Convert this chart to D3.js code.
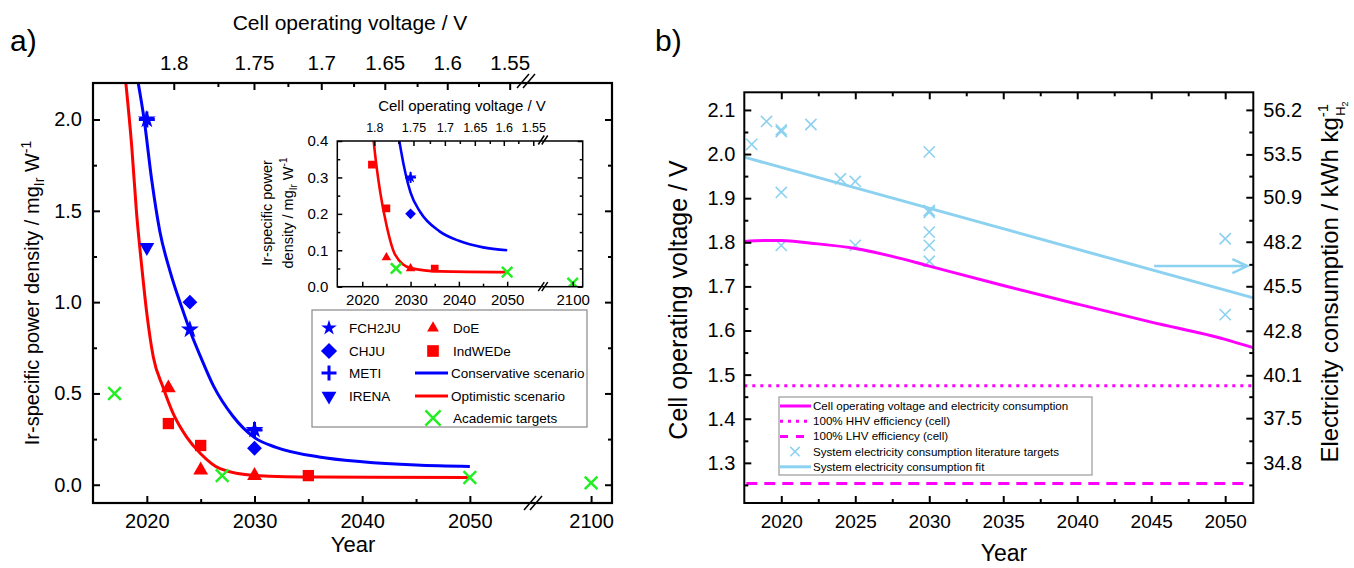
<!DOCTYPE html>
<html>
<head>
<meta charset="utf-8">
<script src="https://cdn.jsdelivr.net/npm/d3@7"></script>
<style>
  body { margin: 0; background: #fff; }
  text { font-family: "Liberation Sans", Arial, Helvetica, sans-serif; }
</style>
</head>
<body>
<svg id="chart" width="1354" height="568"></svg>
<script>
// ---------- panel a data ----------
const fch2juYears = [2020, 2024, 2030]
const fch2juVals = [2.0, 0.85, 0.3]
const chjuYears = [2024, 2030]
const chjuVals = [1.0, 0.2]
const metiYears = [2020, 2030]
const metiVals = [2.0, 0.3]
const irenaYears = [2020]
const irenaVals = [1.3]
const doeYears = [2022, 2025, 2030]
const doeVals = [0.53, 0.08, 0.05]
const indwedeYears = [2022, 2025, 2035]
const indwedeVals = [0.335, 0.215, 0.05]
const academicYears = [2017, 2027, 2050, 2100]
const academicVals = [0.5, 0.05, 0.04, 0.01]

// scenario curves
const conservativeYears = [2019.2, 2019.75, 2020.45, 2021.2, 2022.15, 2023.25, 2024, 2025, 2026.2, 2028, 2030, 2032, 2036, 2040, 2045, 2050]
const conservativeVals = [2.2, 2.0, 1.67, 1.39, 1.17, 0.97, 0.845, 0.70, 0.54, 0.375, 0.258, 0.205, 0.152, 0.126, 0.108, 0.10]
const optimisticYears = [2018.05, 2018.6, 2019.05, 2019.5, 2020, 2020.6, 2021.5, 2022.45, 2023.7, 2025, 2026.8, 2030, 2036, 2050]
const optimisticVals = [2.2, 1.85, 1.485, 1.21, 0.937, 0.70, 0.535, 0.389, 0.261, 0.17, 0.088, 0.051, 0.042, 0.04]

const yearTicksA = [2020, 2030, 2040, 2050, 2100]
const yearMinorA = [2025, 2035, 2045]
const densTicksA = [0.0, 0.5, 1.0, 1.5, 2.0]
const densMinorA = [0.25, 0.75, 1.25, 1.75]
const voltLabels = ["1.8", "1.75", "1.7", "1.65", "1.6", "1.55"]
const voltTickYears = [2022.5, 2029.95, 2036.2, 2042.1, 2047.9, 2053.7]
const voltMinorYears = [2026.6, 2033.1, 2039.2, 2045.1, 2050.8]
const insetVoltTickYears = [2022.5, 2030.6, 2037.1, 2043.3, 2049.3, 2055.4]
const insetVoltMinorYears = [2027.5, 2034.0, 2040.2, 2046.4, 2052.3]
const insetDensTicks = [0.0, 0.1, 0.2, 0.3, 0.4]
const insetDensMinor = [0.05, 0.15, 0.25, 0.35]

// ---------- panel b data ----------
const cellYears = [2017.5, 2019, 2020, 2022, 2025, 2027.5, 2030, 2035, 2040, 2045, 2050, 2051.9]
const cellVolts = [1.802, 1.804, 1.804, 1.798, 1.786, 1.768, 1.746, 1.702, 1.66, 1.619, 1.58, 1.561]
const fitYears = [2017.5, 2051.9]
const fitVolts = [1.993, 1.674]
const targetYears = [2018, 2019, 2020, 2020, 2022, 2020, 2020, 2024, 2025, 2025, 2030, 2030, 2030, 2030, 2030, 2030, 2050, 2050]
const targetVolts = [2.022, 2.074, 2.051, 2.055, 2.067, 1.913, 1.793, 1.944, 1.938, 1.793, 2.005, 1.868, 1.872, 1.823, 1.793, 1.757, 1.808, 1.636]
const hhvVolt = 1.475
const lhvVolt = 1.253
const arrowYears = [2045.2, 2051.5]
const arrowVolt = 1.746
const yearTicksB = [2020, 2025, 2030, 2035, 2040, 2045, 2050]
const yearMinorB = [2022.5, 2027.5, 2032.5, 2037.5, 2042.5, 2047.5]
const voltTicksB = [1.3, 1.4, 1.5, 1.6, 1.7, 1.8, 1.9, 2.0, 2.1]
const voltMinorB = [1.25, 1.35, 1.45, 1.55, 1.65, 1.75, 1.85, 1.95, 2.05]
const kwhTicks = [34.8, 37.5, 40.1, 42.8, 45.5, 48.2, 50.9, 53.5, 56.2]
const KWH_PER_V = 26.76

const BLUE = "#0000ff", RED = "#ff0000", GREEN = "#22ee22"
const MAGENTA = "#ff00ff", SKY = "#8cd2f0"

const svg = d3.select("#chart")

// custom stroke symbols
const symX = {draw(ctx, size) { const r = Math.sqrt(size) / 2; ctx.moveTo(-r, -r); ctx.lineTo(r, r); ctx.moveTo(-r, r); ctx.lineTo(r, -r) }}
const symPlus = {draw(ctx, size) { const r = Math.sqrt(size) / 2; ctx.moveTo(-r, 0); ctx.lineTo(r, 0); ctx.moveTo(0, -r); ctx.lineTo(0, r) }}

function marks(g, x, y, years, vals, s) {
    g.selectAll(null)
        .data(d3.zip(years, vals))
        .enter()
        .append("path")
        .attr("transform", d => `translate(${x(d[0])},${y(d[1])}) rotate(${s.rot || 0})`)
        .attr("d", d3.symbol(s.sym, s.size))
        .attr("fill", s.sw ? "none" : s.color)
        .attr("stroke", s.sw ? s.color : "none")
        .attr("stroke-width", s.sw || 0)
}

function styleAxis(g, size, sw) {
    g.select(".domain").remove()
    g.attr("font-family", null).attr("font-size", size)
    g.selectAll("line").attr("stroke-width", sw)
    g.selectAll("text").attr("fill", "#000")
}

function breakMark(g, x, y, w, h, gap) {
    for (let k of [-gap / 2, gap / 2]) {
        g.append("line")
            .attr("x1", x + k - w / 2).attr("y1", y + h / 2)
            .attr("x2", x + k + w / 2).attr("y2", y - h / 2)
            .attr("stroke", "#000").attr("stroke-width", 1.5)
    }
}

// =================== PANEL A ===================
const A = {l: 93, r: 612, t: 83, b: 503}
const ax = d3.scaleLinear().domain([2015, 2055.4, 2094.3, 2101.95]).range([A.l, 528, 530, A.r])
const ay = d3.scaleLinear().domain([-0.1, 2.2]).range([A.b, A.t])

const gA = svg.append("g")
svg.append("clipPath").attr("id", "clipA").append("rect")
    .attr("x", A.l).attr("y", A.t).attr("width", A.r - A.l).attr("height", A.b - A.t)

const lineA = d3.line().x(d => ax(d[0])).y(d => ay(d[1])).curve(d3.curveMonotoneX)
const curvesA = gA.append("g").attr("clip-path", "url(#clipA)")
curvesA.append("path").attr("d", lineA(d3.zip(conservativeYears, conservativeVals)))
    .attr("fill", "none").attr("stroke", BLUE).attr("stroke-width", 3)
curvesA.append("path").attr("d", lineA(d3.zip(optimisticYears, optimisticVals)))
    .attr("fill", "none").attr("stroke", RED).attr("stroke-width", 3)

const mainSty = {
    star: {sym: d3.symbolStar, size: 100, color: BLUE},
    diamond: {sym: d3.symbolSquare, size: 110, color: BLUE, rot: 45},
    plus: {sym: symPlus, size: 256, color: BLUE, sw: 3},
    down: {sym: d3.symbolTriangle, size: 95, color: BLUE, rot: 180},
    tri: {sym: d3.symbolTriangle, size: 95, color: RED},
    square: {sym: d3.symbolSquare, size: 128, color: RED},
    x: {sym: symX, size: 160, color: GREEN, sw: 2.5}
}
marks(gA, ax, ay, chjuYears, chjuVals, mainSty.diamond)
marks(gA, ax, ay, irenaYears, irenaVals, mainSty.down)
marks(gA, ax, ay, fch2juYears, fch2juVals, mainSty.star)
marks(gA, ax, ay, metiYears, metiVals, mainSty.plus)
marks(gA, ax, ay, doeYears, doeVals, mainSty.tri)
marks(gA, ax, ay, indwedeYears, indwedeVals, mainSty.square)
marks(gA, ax, ay, academicYears, academicVals, mainSty.x)

// axes a
const axB = gA.append("g").attr("transform", `translate(0,${A.b})`)
    .call(d3.axisBottom(ax).tickValues(yearTicksA).tickFormat(d3.format("d")).tickSize(-7).tickPadding(11))
styleAxis(axB, 20, 2)
const axBm = gA.append("g").attr("transform", `translate(0,${A.b})`)
    .call(d3.axisBottom(ax).tickValues(yearMinorA).tickFormat("").tickSize(-4))
styleAxis(axBm, 20, 2)
const axL = gA.append("g").attr("transform", `translate(${A.l},0)`)
    .call(d3.axisLeft(ay).tickValues(densTicksA).tickFormat(d3.format(".1f")).tickSize(-7).tickPadding(11))
styleAxis(axL, 20, 2)
const axLm = gA.append("g").attr("transform", `translate(${A.l},0)`)
    .call(d3.axisLeft(ay).tickValues(densMinorA).tickFormat("").tickSize(-4))
styleAxis(axLm, 20, 2)
const axR = gA.append("g").attr("transform", `translate(${A.r},0)`)
    .call(d3.axisLeft(ay).tickValues(densTicksA).tickFormat("").tickSize(7))
styleAxis(axR, 20, 2)
const axRm = gA.append("g").attr("transform", `translate(${A.r},0)`)
    .call(d3.axisLeft(ay).tickValues(densMinorA).tickFormat("").tickSize(4))
styleAxis(axRm, 20, 2)
const axT = gA.append("g").attr("transform", `translate(0,${A.t})`)
    .call(d3.axisTop(ax).tickValues(voltTickYears).tickFormat((d, i) => voltLabels[i]).tickSize(-7).tickPadding(13))
styleAxis(axT, 20.5, 2)
const axTm = gA.append("g").attr("transform", `translate(0,${A.t})`)
    .call(d3.axisTop(ax).tickValues(voltMinorYears).tickFormat("").tickSize(-4))
styleAxis(axTm, 20, 2)

gA.append("rect").attr("x", A.l).attr("y", A.t).attr("width", A.r - A.l).attr("height", A.b - A.t)
    .attr("fill", "none").attr("stroke", "#000").attr("stroke-width", 2.2)
breakMark(gA, 526, A.t - 2, 12, 14, 6)
breakMark(gA, 533, A.b, 12, 14, 6)

gA.append("text").attr("x", 350).attr("y", 30).attr("text-anchor", "middle").attr("font-size", 21)
    .text("Cell operating voltage / V")
gA.append("text").attr("x", 353).attr("y", 552).attr("text-anchor", "middle").attr("font-size", 22)
    .text("Year")
const ylabA = gA.append("text").attr("transform", "translate(39,293) rotate(-90)")
    .attr("text-anchor", "middle").attr("font-size", 20)
ylabA.append("tspan").text("Ir-specific power density / mg")
ylabA.append("tspan").attr("dy", 5).attr("font-size", 14).text("Ir")
ylabA.append("tspan").attr("dy", -5).text(" W")
ylabA.append("tspan").attr("dy", -8).attr("font-size", 14).text("-1")
svg.append("text").attr("x", 10).attr("y", 51).attr("font-size", 30).text("a)")

// ---------- inset ----------
const I = {l: 337.3, r: 582.7, t: 141, b: 286.7}
const ix = d3.scaleLinear().domain([2015, 2057, 2094.4, 2102.1]).range([338.1, 541, 546, I.r])
const iy = d3.scaleLinear().domain([0, 0.4]).range([I.b, I.t])
const gI = svg.append("g")
gI.append("rect").attr("x", I.l).attr("y", I.t).attr("width", I.r - I.l).attr("height", I.b - I.t).attr("fill", "#fff")
svg.append("clipPath").attr("id", "clipI").append("rect")
    .attr("x", I.l).attr("y", I.t).attr("width", I.r - I.l).attr("height", I.b - I.t)
const lineI = d3.line().x(d => ix(d[0])).y(d => iy(d[1])).curve(d3.curveMonotoneX)
const curvesI = gI.append("g").attr("clip-path", "url(#clipI)")
curvesI.append("path").attr("d", lineI(d3.zip(conservativeYears, conservativeVals)))
    .attr("fill", "none").attr("stroke", BLUE).attr("stroke-width", 2.6)
curvesI.append("path").attr("d", lineI(d3.zip(optimisticYears, optimisticVals)))
    .attr("fill", "none").attr("stroke", RED).attr("stroke-width", 2.6)
const marksI = gI.append("g").attr("clip-path", "url(#clipI)")
const insetSty = {
    star: {sym: d3.symbolStar, size: 45, color: BLUE},
    diamond: {sym: d3.symbolSquare, size: 57, color: BLUE, rot: 45},
    plus: {sym: symPlus, size: 121, color: BLUE, sw: 2},
    down: {sym: d3.symbolTriangle, size: 40, color: BLUE, rot: 180},
    tri: {sym: d3.symbolTriangle, size: 40, color: RED},
    square: {sym: d3.symbolSquare, size: 59, color: RED},
    x: {sym: symX, size: 110, color: GREEN, sw: 2.5}
}
marks(marksI, ix, iy, chjuYears, chjuVals, insetSty.diamond)
marks(marksI, ix, iy, fch2juYears, fch2juVals, insetSty.star)
marks(marksI, ix, iy, metiYears, metiVals, insetSty.plus)
marks(marksI, ix, iy, doeYears, doeVals, insetSty.tri)
marks(marksI, ix, iy, indwedeYears, indwedeVals, insetSty.square)
marks(marksI, ix, iy, academicYears, academicVals, insetSty.x)

const ixB = gI.append("g").attr("transform", `translate(0,${I.b})`)
    .call(d3.axisBottom(ix).tickValues(yearTicksA).tickFormat(d3.format("d")).tickSize(-5).tickPadding(8))
styleAxis(ixB, 15, 1.5)
const ixBm = gI.append("g").attr("transform", `translate(0,${I.b})`)
    .call(d3.axisBottom(ix).tickValues(yearMinorA).tickFormat("").tickSize(-3))
styleAxis(ixBm, 15, 1.5)
const iyL = gI.append("g").attr("transform", `translate(${I.l},0)`)
    .call(d3.axisLeft(iy).tickValues(insetDensTicks).tickFormat(d3.format(".1f")).tickSize(-5).tickPadding(9))
styleAxis(iyL, 15, 1.5)
const iyLm = gI.append("g").attr("transform", `translate(${I.l},0)`)
    .call(d3.axisLeft(iy).tickValues(insetDensMinor).tickFormat("").tickSize(-3))
styleAxis(iyLm, 15, 1.5)
const iyR = gI.append("g").attr("transform", `translate(${I.r},0)`)
    .call(d3.axisLeft(iy).tickValues(insetDensTicks).tickFormat("").tickSize(5))
styleAxis(iyR, 15, 1.5)
const iyRm = gI.append("g").attr("transform", `translate(${I.r},0)`)
    .call(d3.axisLeft(iy).tickValues(insetDensMinor).tickFormat("").tickSize(3))
styleAxis(iyRm, 15, 1.5)
const ixT = gI.append("g").attr("transform", `translate(0,${I.t})`)
    .call(d3.axisTop(ix).tickValues(insetVoltTickYears).tickFormat((d, i) => voltLabels[i]).tickSize(-5).tickPadding(9))
styleAxis(ixT, 12.5, 1.5)
const ixTm = gI.append("g").attr("transform", `translate(0,${I.t})`)
    .call(d3.axisTop(ix).tickValues(insetVoltMinorYears).tickFormat("").tickSize(-3))
styleAxis(ixTm, 12.5, 1.5)
gI.append("rect").attr("x", I.l).attr("y", I.t).attr("width", I.r - I.l).attr("height", I.b - I.t)
    .attr("fill", "none").attr("stroke", "#000").attr("stroke-width", 1.5)
breakMark(gI, 543, I.t - 1, 6, 9, 3.5)
breakMark(gI, 543, I.b, 6, 9, 3.5)
gI.append("text").attr("x", 462).attr("y", 111).attr("text-anchor", "middle").attr("font-size", 15)
    .text("Cell operating voltage / V")
gI.append("text").attr("transform", "translate(272,213) rotate(-90)").attr("text-anchor", "middle")
    .attr("font-size", 14.5).text("Ir-specific power")
const ylabI = gI.append("text").attr("transform", "translate(293,213) rotate(-90)")
    .attr("text-anchor", "middle").attr("font-size", 14.5)
ylabI.append("tspan").text("density / mg")
ylabI.append("tspan").attr("dy", 4).attr("font-size", 10).text("Ir")
ylabI.append("tspan").attr("dy", -4).text(" W")
ylabI.append("tspan").attr("dy", -6).attr("font-size", 10).text("-1")

// ---------- legend a ----------
const gLA = svg.append("g")
gLA.append("rect").attr("x", 312).attr("y", 310).attr("width", 275).attr("height", 117)
    .attr("fill", "#fff").attr("stroke", "#888").attr("stroke-width", 1.2)
const legendA = [
    {name: "FCH2JU", x: 329, y: 328, sty: {sym: d3.symbolStar, size: 75, color: BLUE}},
    {name: "CHJU", x: 329, y: 351, sty: {sym: d3.symbolSquare, size: 130, color: BLUE, rot: 45}},
    {name: "METI", x: 329, y: 373, sty: {sym: symPlus, size: 225, color: BLUE, sw: 3}},
    {name: "IRENA", x: 329, y: 396, sty: {sym: d3.symbolTriangle, size: 95, color: BLUE, rot: 180}},
    {name: "DoE", x: 433, y: 328, sty: {sym: d3.symbolTriangle, size: 60, color: RED}},
    {name: "IndWEDe", x: 433, y: 351, sty: {sym: d3.symbolSquare, size: 136, color: RED}},
    {name: "Conservative scenario", x: 433, y: 373, line: BLUE},
    {name: "Optimistic scenario", x: 433, y: 396, line: RED},
    {name: "Academic targets", x: 433, y: 418, sty: {sym: symX, size: 230, color: GREEN, sw: 2.5}}
]
legendA.forEach(d => {
    if (d.line) {
        gLA.append("line").attr("x1", d.x - 18).attr("x2", d.x + 15).attr("y1", d.y).attr("y2", d.y)
            .attr("stroke", d.line).attr("stroke-width", 3)
    } else {
        gLA.append("path").attr("transform", `translate(${d.x},${d.y}) rotate(${d.sty.rot || 0})`)
            .attr("d", d3.symbol(d.sty.sym, d.sty.size))
            .attr("fill", d.sty.sw ? "none" : d.sty.color)
            .attr("stroke", d.sty.sw ? d.sty.color : "none").attr("stroke-width", d.sty.sw || 0)
    }
    gLA.append("text").attr("x", d.line ? d.x + 18 : d.x + 20).attr("y", d.y + 4.5).attr("font-size", 13.5).text(d.name)
})

// =================== PANEL B ===================
const B = {l: 744.3, r: 1253.3, t: 92.3, b: 503}
const bx = d3.scaleLinear().domain([2017.5, 2051.9]).range([B.l, B.r])
const by = d3.scaleLinear().domain([1.209, 2.14]).range([B.b, B.t])
const byR = d3.scaleLinear().domain(by.domain().map(v => v * KWH_PER_V)).range(by.range())
const gB = svg.append("g")
svg.append("clipPath").attr("id", "clipB").append("rect")
    .attr("x", B.l).attr("y", B.t).attr("width", B.r - B.l).attr("height", B.b - B.t)
const plotB = gB.append("g").attr("clip-path", "url(#clipB)")
const lineB = d3.line().x(d => bx(d[0])).y(d => by(d[1]))

plotB.append("path").attr("d", lineB(d3.zip(fitYears, fitVolts)))
    .attr("fill", "none").attr("stroke", SKY).attr("stroke-width", 3)
marks(plotB, bx, by, targetYears, targetVolts, {sym: symX, size: 125, color: SKY, sw: 1.6})
plotB.append("path").attr("d", lineB.curve(d3.curveMonotoneX)(d3.zip(cellYears, cellVolts)))
    .attr("fill", "none").attr("stroke", MAGENTA).attr("stroke-width", 3)
plotB.append("line").attr("x1", B.l).attr("x2", B.r).attr("y1", by(hhvVolt)).attr("y2", by(hhvVolt))
    .attr("stroke", MAGENTA).attr("stroke-width", 3).attr("stroke-dasharray", "3,5")
plotB.append("line").attr("x1", B.l + 2).attr("x2", B.r - 6).attr("y1", by(lhvVolt)).attr("y2", by(lhvVolt))
    .attr("stroke", MAGENTA).attr("stroke-width", 3).attr("stroke-dasharray", "11,7")

// arrow pointing at the right axis
const ax0 = bx(arrowYears[0]), ax1 = bx(arrowYears[1]), ayv = by(arrowVolt)
plotB.append("path").attr("d", `M${ax0},${ayv}L${ax1},${ayv}M${ax1 - 15},${ayv - 7}L${ax1},${ayv}L${ax1 - 15},${ayv + 7}`)
    .attr("fill", "none").attr("stroke", SKY).attr("stroke-width", 2.5)

// axes b
const bxB = gB.append("g").attr("transform", `translate(0,${B.b})`)
    .call(d3.axisBottom(bx).tickValues(yearTicksB).tickFormat(d3.format("d")).tickSize(-7).tickPadding(12))
styleAxis(bxB, 19, 2)
const bxBm = gB.append("g").attr("transform", `translate(0,${B.b})`)
    .call(d3.axisBottom(bx).tickValues(yearMinorB).tickFormat("").tickSize(-4))
styleAxis(bxBm, 19, 2)
const bxT = gB.append("g").attr("transform", `translate(0,${B.t})`)
    .call(d3.axisBottom(bx).tickValues(yearTicksB).tickFormat("").tickSize(7))
styleAxis(bxT, 19, 2)
const bxTm = gB.append("g").attr("transform", `translate(0,${B.t})`)
    .call(d3.axisBottom(bx).tickValues(yearMinorB).tickFormat("").tickSize(4))
styleAxis(bxTm, 19, 2)
const byL = gB.append("g").attr("transform", `translate(${B.l},0)`)
    .call(d3.axisLeft(by).tickValues(voltTicksB).tickFormat(d3.format(".1f")).tickSize(-7).tickPadding(9))
styleAxis(byL, 20, 2)
const byLm = gB.append("g").attr("transform", `translate(${B.l},0)`)
    .call(d3.axisLeft(by).tickValues(voltMinorB).tickFormat("").tickSize(-4))
styleAxis(byLm, 20, 2)
const byRt = gB.append("g").attr("transform", `translate(${B.r},0)`)
    .call(d3.axisRight(byR).tickValues(kwhTicks).tickFormat(d3.format(".1f")).tickSize(-7).tickPadding(10))
styleAxis(byRt, 20, 2)
const byRm = gB.append("g").attr("transform", `translate(${B.r},0)`)
    .call(d3.axisLeft(by).tickValues(voltMinorB).tickFormat("").tickSize(4))
styleAxis(byRm, 20, 2)
gB.append("rect").attr("x", B.l).attr("y", B.t).attr("width", B.r - B.l).attr("height", B.b - B.t)
    .attr("fill", "none").attr("stroke", "#000").attr("stroke-width", 2)

gB.append("text").attr("x", 1004).attr("y", 561).attr("text-anchor", "middle").attr("font-size", 23).text("Year")
gB.append("text").attr("transform", "translate(687,300) rotate(-90)").attr("text-anchor", "middle")
    .attr("font-size", 25).text("Cell operating voltage / V")
const ylabB = gB.append("text").attr("transform", "translate(1338,282) rotate(-90)")
    .attr("text-anchor", "middle").attr("font-size", 24)
ylabB.append("tspan").text("Electricity consumption / kWh kg")
ylabB.append("tspan").attr("dy", -10).attr("font-size", 15).text("-1")
ylabB.append("tspan").attr("dx", -12).attr("dy", 17).attr("font-size", 13).text("H")
ylabB.append("tspan").attr("dy", 3).attr("font-size", 9).text("2")
svg.append("text").attr("x", 655).attr("y", 51).attr("font-size", 30).text("b)")

// ---------- legend b ----------
const gLB = svg.append("g")
gLB.append("rect").attr("x", 779).attr("y", 397).attr("width", 313).attr("height", 78)
    .attr("fill", "#fff").attr("stroke", "#999").attr("stroke-width", 1.2)
const legendB = [
    {name: "Cell operating voltage and electricity consumption", color: MAGENTA, dash: null},
    {name: "100% HHV efficiency (cell)", color: MAGENTA, dash: "3,5"},
    {name: "100% LHV efficiency (cell)", color: MAGENTA, dash: "8,8"},
    {name: "System electricity consumption literature targets", color: SKY, sym: true},
    {name: "System electricity consumption fit", color: SKY, dash: null}
]
legendB.forEach((d, i) => {
    const y = 406 + i * 15.2
    if (d.sym) {
        gLB.append("path").attr("transform", `translate(795,${y})`).attr("d", d3.symbol(symX, 90))
            .attr("fill", "none").attr("stroke", d.color).attr("stroke-width", 1.5)
    } else {
        gLB.append("line").attr("x1", 780).attr("x2", 811).attr("y1", y).attr("y2", y)
            .attr("stroke", d.color).attr("stroke-width", 3).attr("stroke-dasharray", d.dash)
    }
    gLB.append("text").attr("x", 813).attr("y", y + 4).attr("font-size", 11.6).text(d.name)
})
</script>
</body>
</html>
